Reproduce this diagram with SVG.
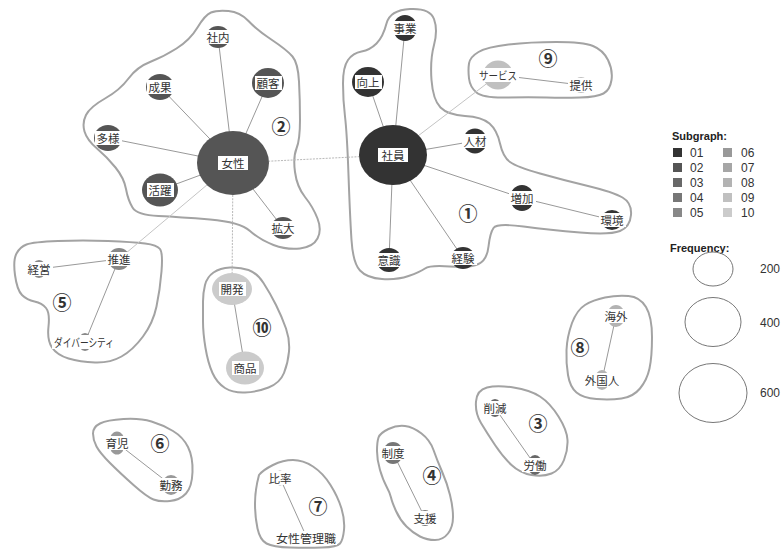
<svg xmlns="http://www.w3.org/2000/svg" width="784" height="549" viewBox="0 0 784 549">
<style>
.hull{fill:none;stroke:#a3a3a3;stroke-width:2}
.e{stroke:#999;stroke-width:1;fill:none}
.ex{stroke:#b8b8b8;stroke-width:1;stroke-dasharray:2 1.2;fill:none}
.exs{stroke:#c4c4c4;stroke-width:1;fill:none}
.n rect{fill:#fff}
.n text,.num{font-family:"Noto Sans CJK JP","Noto Sans",sans-serif;fill:#333;text-anchor:middle;dominant-baseline:central}
.n text{font-size:11.5px}
.num{font-size:19px;font-weight:bold;fill:#333}
.lg{font-family:"Liberation Sans",Arial,sans-serif;fill:#333;font-size:12px}
.lgb{font-family:"Liberation Sans",Arial,sans-serif;fill:#222;font-size:11px;font-weight:bold}
.fc{fill:none;stroke:#777;stroke-width:1}
.c01{fill:#333}.c02{fill:#555}.c03{fill:#686868}.c04{fill:#777}.c05{fill:#888}
.c06{fill:#999}.c07{fill:#a6a6a6}.c08{fill:#b3b3b3}.c09{fill:#c0c0c0}.c10{fill:#cbcbcb}
</style>
<rect width="784" height="549" fill="#fff"/>
<g id="hulls">
<path class="hull" d="M410,9 Q430,8 434,19 Q438,30 434,45 Q430,60 431.5,80 Q433,100 440.5,107.5 Q448,115 465,116 Q482,117 489.5,123.5 Q497,130 500,143.5 Q503,157 510,162 Q517,167 540,173.5 Q563,180 588,186 Q613,192 622.5,197.5 Q632,203 631,215 Q630,227 620,231 Q610,235 580,232.5 Q550,230 523.5,226.5 Q497,223 493.5,228 Q490,233 488.5,246.5 Q487,260 478.5,264 Q470,268 450,266.5 Q430,265 425,268.5 Q420,272 408.5,276 Q397,280 382,279 Q367,278 360,270.5 Q353,263 351.5,240 Q350,217 348.5,175 Q347,133 345,116.5 Q343,100 343,83.5 Q343,67 348,60 Q353,53 361.5,51.5 Q370,50 376.5,43.5 Q383,37 386.5,23.5 Q390,10 410,9 Z"/>
<path class="hull" d="M211,12.5 Q217,10 228.5,11 Q240,12 248.5,21 Q257,30 272,40 Q287,50 292.5,56.5 Q298,63 299,81.5 Q300,100 300,120 Q300,140 296.5,148.5 Q293,157 295,172 Q297,187 305,197 Q313,207 317.5,218.5 Q322,230 317.5,238.5 Q313,247 300,248.5 Q287,250 273.5,245 Q260,240 250,231 Q240,222 210,219.5 Q180,217 158.5,216 Q137,215 132.5,207.5 Q128,200 126,189 Q124,178 115.5,167.5 Q107,157 97,148.5 Q87,140 84.5,131.5 Q82,123 86,115 Q90,107 105,98.5 Q120,90 128.5,78.5 Q137,67 150,62 Q163,57 176.5,48.5 Q190,40 197.5,27.5 Q205,15 211,12.5 Z"/>
<path class="hull" d="M478.5,52 Q487,47 508.5,44.5 Q530,42 556.5,42 Q583,42 593,46 Q603,50 608,60 Q613,70 611.5,80 Q610,90 603.5,93.5 Q597,97 580,97.5 Q563,98 546.5,97.5 Q530,97 506.5,97.5 Q483,98 476.5,92.5 Q470,87 469,78.5 Q468,70 469,63.5 Q470,57 478.5,52 Z"/>
<path class="hull" d="M26.5,244.5 Q33,242 58,241 Q83,240 108,241 Q133,242 145,243.5 Q157,245 160,249 Q163,253 161.5,271.5 Q160,290 156.5,306.5 Q153,323 143,336.5 Q133,350 121.5,356.5 Q110,363 95,362.5 Q80,362 68.5,358.5 Q57,355 52,347.5 Q47,340 48.5,326.5 Q50,313 46,308 Q42,303 34.5,301.5 Q27,300 22,295 Q17,290 15,275 Q13,260 16.5,253.5 Q20,247 26.5,244.5 Z"/>
<path class="hull" d="M205,285 Q207,277 213.5,272.5 Q220,268 230,267.5 Q240,267 248.5,270 Q257,273 263.5,283 Q270,293 276,305 Q282,317 286,328.5 Q290,340 289,351.5 Q288,363 284,373 Q280,383 268.5,387.5 Q257,392 245,392.5 Q233,393 225,388 Q217,383 212.5,373 Q208,363 205.5,348 Q203,333 203,321.5 Q203,310 203,301.5 Q203,293 205,285 Z"/>
<path class="hull" d="M572,323 Q577,310 585,305 Q593,300 605,297.5 Q617,295 628.5,296 Q640,297 646,307 Q652,317 652,337 Q652,357 649.5,368.5 Q647,380 640,388.5 Q633,397 621.5,398.5 Q610,400 596.5,399 Q583,398 576.5,392.5 Q570,387 568,375 Q566,363 566.5,350 Q567,337 572,323 Z"/>
<path class="hull" d="M487,387.5 Q497,385 513.5,387.5 Q530,390 540,396.5 Q550,403 558.5,416.5 Q567,430 567.5,440 Q568,450 564,460 Q560,470 551.5,473.5 Q543,477 531.5,475 Q520,473 511.5,465 Q503,457 495,445 Q487,433 481,423 Q475,413 476,401.5 Q477,390 487,387.5 Z"/>
<path class="hull" d="M100,423.5 Q107,420 123.5,419 Q140,418 151.5,421.5 Q163,425 173,431 Q183,437 188,447 Q193,457 192.5,472 Q192,487 186,493.5 Q180,500 170,501 Q160,502 153.5,499.5 Q147,497 133.5,485 Q120,473 110,463 Q100,453 96.5,446.5 Q93,440 93,433.5 Q93,427 100,423.5 Z"/>
<path class="hull" d="M259,475 Q263,470 273,465 Q283,460 293,460 Q303,460 313,466.5 Q323,473 330.5,485 Q338,497 341.5,508.5 Q345,520 344,530 Q343,540 340,543.5 Q337,547 322,547.5 Q307,548 290,547.5 Q273,547 266.5,543.5 Q260,540 257.5,528.5 Q255,517 255,503.5 Q255,490 259,475 Z"/>
<path class="hull" d="M388.5,429 Q397,425 405,426 Q413,427 421.5,433.5 Q430,440 433.5,450 Q437,460 442,471.5 Q447,483 450,495 Q453,507 453,517 Q453,527 448,533.5 Q443,540 435,540 Q427,540 420,536.5 Q413,533 406.5,526.5 Q400,520 396,511 Q392,502 391,497.5 Q390,493 386.5,486.5 Q383,480 380,470 Q377,460 377,451 Q377,442 378.5,437.5 Q380,433 388.5,429 Z"/>
</g>
<g id="numbers">
<text class="num" x="281" y="125">②</text>
<text class="num" x="468" y="212">①</text>
<text class="num" x="548" y="57">⑨</text>
<text class="num" x="62" y="301">⑤</text>
<text class="num" x="262" y="326">⑩</text>
<text class="num" x="580" y="346">⑧</text>
<text class="num" x="538" y="422">③</text>
<text class="num" x="160" y="442">⑥</text>
<text class="num" x="318" y="505">⑦</text>
<text class="num" x="432" y="474">④</text>
</g>
<g id="edges">
<line class="ex" x1="233" y1="163" x2="393" y2="155"/>
<line class="exs" x1="393" y1="155" x2="498" y2="75"/>
<line class="exs" x1="233" y1="163" x2="119" y2="259"/>
<line class="ex" x1="233" y1="163" x2="232" y2="289"/>
<line class="e" x1="233" y1="163" x2="218" y2="37"/>
<line class="e" x1="233" y1="163" x2="268" y2="83"/>
<line class="e" x1="233" y1="163" x2="160" y2="87"/>
<line class="e" x1="233" y1="163" x2="108" y2="138"/>
<line class="e" x1="233" y1="163" x2="160" y2="190"/>
<line class="e" x1="233" y1="163" x2="283" y2="228"/>
<line class="e" x1="393" y1="155" x2="405" y2="28"/>
<line class="e" x1="393" y1="155" x2="368" y2="82"/>
<line class="e" x1="393" y1="155" x2="475" y2="141"/>
<line class="e" x1="393" y1="155" x2="522" y2="198"/>
<line class="e" x1="393" y1="155" x2="389" y2="260"/>
<line class="e" x1="393" y1="155" x2="463" y2="258"/>
<line class="e" x1="522" y1="198" x2="612" y2="220"/>
<line class="e" x1="498" y1="75" x2="581" y2="85"/>
<line class="e" x1="119" y1="259" x2="39" y2="269"/>
<line class="e" x1="119" y1="259" x2="85" y2="342"/>
<line class="e" x1="232" y1="289" x2="245" y2="368"/>
<line class="e" x1="616" y1="316" x2="602" y2="380"/>
<line class="e" x1="495" y1="408" x2="535" y2="465"/>
<line class="e" x1="117" y1="443" x2="171" y2="485"/>
<line class="e" x1="280" y1="478" x2="307" y2="538"/>
<line class="e" x1="393" y1="453" x2="425" y2="518"/>
</g>
<g id="n-shain" class="n"><ellipse class="c01" cx="393" cy="155" rx="34" ry="30"/><rect x="378" y="148" width="30" height="14"/><text x="393" y="155">社員</text></g>
<g id="n-jigyo" class="n"><ellipse class="c01" cx="405" cy="28" rx="12" ry="13"/><rect x="392" y="21" width="27" height="14"/><text x="405" y="28">事業</text></g>
<g id="n-kojo" class="n"><ellipse class="c01" cx="368" cy="82" rx="16" ry="15"/><rect x="355" y="75" width="27" height="14"/><text x="368" y="82">向上</text></g>
<g id="n-jinzai" class="n"><ellipse class="c01" cx="475" cy="141" rx="12" ry="12.5"/><rect x="462" y="134" width="27" height="14"/><text x="475" y="141">人材</text></g>
<g id="n-zoka" class="n"><ellipse class="c01" cx="522" cy="198" rx="12" ry="13"/><rect x="509" y="191" width="27" height="14"/><text x="522" y="198">増加</text></g>
<g id="n-kankyo" class="n"><ellipse class="c01" cx="612" cy="220" rx="11" ry="10"/><rect x="599" y="213" width="27" height="14"/><text x="612" y="220">環境</text></g>
<g id="n-ishiki" class="n"><ellipse class="c01" cx="389" cy="260" rx="12.5" ry="12"/><rect x="376" y="253" width="27" height="14"/><text x="389" y="260">意識</text></g>
<g id="n-keiken" class="n"><ellipse class="c01" cx="463" cy="258" rx="12" ry="11"/><rect x="450" y="251" width="27" height="14"/><text x="463" y="258">経験</text></g>
<g id="n-josei" class="n"><ellipse class="c02" cx="233" cy="163" rx="36" ry="32"/><rect x="218" y="156" width="30" height="14"/><text x="233" y="163">女性</text></g>
<g id="n-shanai" class="n"><ellipse class="c02" cx="218" cy="37" rx="12" ry="11"/><rect x="205" y="30" width="27" height="14"/><text x="218" y="37">社内</text></g>
<g id="n-kokyaku" class="n"><ellipse class="c02" cx="268" cy="83" rx="16" ry="15"/><rect x="255" y="76" width="27" height="14"/><text x="268" y="83">顧客</text></g>
<g id="n-seika" class="n"><ellipse class="c02" cx="160" cy="87" rx="14" ry="13"/><rect x="147" y="80" width="27" height="14"/><text x="160" y="87">成果</text></g>
<g id="n-tayo" class="n"><ellipse class="c02" cx="108" cy="138" rx="14" ry="13"/><rect x="95" y="131" width="27" height="14"/><text x="108" y="138">多様</text></g>
<g id="n-katsuyaku" class="n"><ellipse class="c02" cx="160" cy="190" rx="18" ry="16.5"/><rect x="147" y="183" width="27" height="14"/><text x="160" y="190">活躍</text></g>
<g id="n-kakudai" class="n"><ellipse class="c02" cx="283" cy="228" rx="12" ry="11"/><rect x="270" y="221" width="27" height="14"/><text x="283" y="228">拡大</text></g>
<g id="n-sakugen" class="n"><ellipse class="c03" cx="495" cy="408" rx="7" ry="9"/><rect x="482" y="401" width="27" height="14"/><text x="495" y="408">削減</text></g>
<g id="n-rodo" class="n"><ellipse class="c03" cx="535" cy="465" rx="7.5" ry="10"/><rect x="522" y="458" width="27" height="14"/><text x="535" y="465">労働</text></g>
<g id="n-seido" class="n"><ellipse class="c04" cx="393" cy="453" rx="10" ry="11"/><rect x="380" y="446" width="27" height="14"/><text x="393" y="453">制度</text></g>
<g id="n-shien" class="n"><ellipse class="c04" cx="425" cy="518" rx="7" ry="8"/><rect x="412" y="511" width="27" height="14"/><text x="425" y="518">支援</text></g>
<g id="n-suishin" class="n"><ellipse class="c05" cx="119" cy="259" rx="11" ry="11"/><rect x="106" y="252" width="27" height="14"/><text x="119" y="259">推進</text></g>
<g id="n-keiei" class="n"><ellipse class="c05" cx="39" cy="269" rx="7.5" ry="9"/><rect x="26" y="262" width="27" height="14"/><text x="39" y="269">経営</text></g>
<g id="n-diversity" class="n"><ellipse class="c05" cx="85" cy="342" rx="7" ry="9"/><rect x="52" y="335" width="64" height="14"/><text x="84" y="342" textLength="60" lengthAdjust="spacingAndGlyphs">ダイバーシティ</text></g>
<g id="n-ikuji" class="n"><ellipse class="c06" cx="117" cy="443" rx="8" ry="11.5"/><rect x="104" y="436" width="27" height="14"/><text x="117" y="443">育児</text></g>
<g id="n-kinmu" class="n"><ellipse class="c06" cx="171" cy="485" rx="9" ry="10"/><rect x="158" y="478" width="27" height="14"/><text x="171" y="485">勤務</text></g>
<g id="n-hiritsu" class="n"><ellipse class="c07" cx="280" cy="478" rx="5" ry="7.5"/><rect x="267" y="471" width="27" height="14"/><text x="280" y="478">比率</text></g>
<g id="n-kanrishoku" class="n"><ellipse class="c07" cx="307" cy="538" rx="5" ry="6"/><rect x="275" y="531" width="62" height="14"/><text x="306" y="538" textLength="60" lengthAdjust="spacingAndGlyphs">女性管理職</text></g>
<g id="n-kaigai" class="n"><ellipse class="c08" cx="616" cy="316" rx="9" ry="11"/><rect x="603" y="309" width="27" height="14"/><text x="616" y="316">海外</text></g>
<g id="n-gaikokujin" class="n"><ellipse class="c08" cx="602" cy="380" rx="7.5" ry="10"/><rect x="583" y="373" width="38" height="14"/><text x="602" y="380">外国人</text></g>
<g id="n-service" class="n"><ellipse class="c09" cx="498" cy="75" rx="15" ry="14.5"/><rect x="477" y="68" width="42" height="14"/><text x="498" y="75" textLength="38" lengthAdjust="spacingAndGlyphs">サービス</text></g>
<g id="n-teikyo" class="n"><ellipse class="c09" cx="581" cy="85" rx="7.5" ry="8"/><rect x="568" y="78" width="27" height="14"/><text x="581" y="85">提供</text></g>
<g id="n-kaihatsu" class="n"><ellipse class="c10" cx="232" cy="289" rx="20" ry="16"/><rect x="219" y="282" width="27" height="14"/><text x="232" y="289">開発</text></g>
<g id="n-shohin" class="n"><ellipse class="c10" cx="245" cy="368" rx="19" ry="16.5"/><rect x="232" y="361" width="27" height="14"/><text x="245" y="368">商品</text></g>
<g id="legend">
<text class="lgb" x="672" y="140">Subgraph:</text>
<rect class="c01" x="673" y="148" width="9" height="9"/><text class="lg" x="690" y="157">01</text>
<rect class="c02" x="673" y="163" width="9" height="9"/><text class="lg" x="690" y="172">02</text>
<rect class="c03" x="673" y="178" width="9" height="9"/><text class="lg" x="690" y="187">03</text>
<rect class="c04" x="673" y="193" width="9" height="9"/><text class="lg" x="690" y="202">04</text>
<rect class="c05" x="673" y="208" width="9" height="9"/><text class="lg" x="690" y="217">05</text>
<rect class="c06" x="723" y="148" width="9" height="9"/><text class="lg" x="741" y="157">06</text>
<rect class="c07" x="723" y="163" width="9" height="9"/><text class="lg" x="741" y="172">07</text>
<rect class="c08" x="723" y="178" width="9" height="9"/><text class="lg" x="741" y="187">08</text>
<rect class="c09" x="723" y="193" width="9" height="9"/><text class="lg" x="741" y="202">09</text>
<rect class="c10" x="723" y="208" width="9" height="9"/><text class="lg" x="741" y="217">10</text>
<text class="lgb" x="670" y="252">Frequency:</text>
<ellipse class="fc" cx="713" cy="269" rx="20" ry="17"/><text class="lg" x="760" y="273">200</text>
<ellipse class="fc" cx="713" cy="322" rx="28" ry="24.5"/><text class="lg" x="760" y="327">400</text>
<ellipse class="fc" cx="713" cy="393" rx="34" ry="29.5"/><text class="lg" x="760" y="397">600</text>
</g>
</svg>
